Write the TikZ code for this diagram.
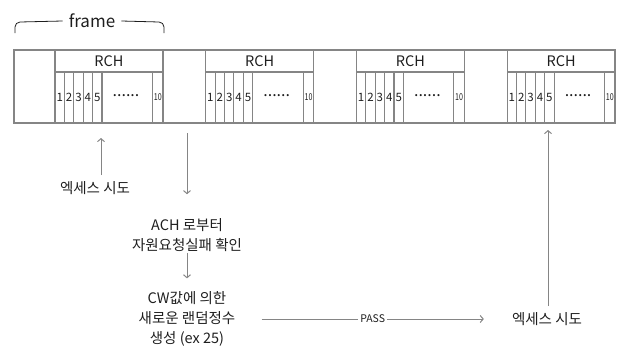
\documentclass[tikz,border=0pt]{standalone}
\usepackage{fontspec}
\setmainfont{Noto Sans CJK KR}
\usepackage{xcolor}
\usetikzlibrary{arrows.meta}
\definecolor{stripline}{HTML}{858585}
\definecolor{labelink}{HTML}{1E1E1E}

\begin{document}
\begin{tikzpicture}[
  x=1pt,
  y=-1pt,
  every node/.style={font=\fontsize{14.5}{16}\selectfont, text=labelink, inner sep=0pt},
  slotnum/.style={font=\fontsize{11.5}{12}\selectfont},
  flowarrow/.style={stripline, line width=1pt, -{Straight Barb[length=3pt, width=7pt]}}
]
  \useasboundingbox (0,0) rectangle (622,351);

  % strip of four frames
  \draw[stripline, line width=1.4pt] (14,50) rectangle (615,123);
  \foreach \i in {0,...,3} {
    \pgfmathsetmacro{\xo}{55+150.7*\i}
    \draw[stripline, line width=1.1pt] (\xo,50) rectangle ++(108,73);
    \draw[stripline, line width=1.1pt] (\xo,72) -- ++(108,0);
    \foreach \k in {1,...,5}
      \draw[stripline, line width=1.1pt] ({\xo+9.4*\k},72) -- ++(0,51);
    \draw[stripline, line width=1.1pt] ({\xo+97.5},72) -- ++(0,51);
    \node (rch\i) at ({\xo+54},61) {RCH};
    \foreach \k in {1,...,5}
      \node[slotnum] at ({\xo+9.4*\k-4.7},97.5) {\k};
    \node[font=\fontsize{16}{16}\selectfont] at ({\xo+71},95.5) {......};
    \node[slotnum, font=\fontsize{9.5}{10}\selectfont, xscale=0.75] at ({\xo+102.8},97.5) {10};
  }

  % frame bracket
  \node[font=\fontsize{17}{19}\selectfont] (framelbl) at (92,21) {frame};
  \draw[labelink, line width=0.8pt] (15,33) -- (15,27) arc[start angle=180, end angle=270, radius=5] -- ([xshift=-6pt]framelbl.west);
  \draw[labelink, line width=0.8pt] ([xshift=6pt]framelbl.east) -- (159,22) arc[start angle=270, end angle=360, radius=5] -- (164,33);

  % access flow
  \node (acc1) at (95,188) {엑세스 시도};
  \node[align=center] (ach) at (187,235) {ACH 로부터\\[4pt]자원요청실패 확인};
  \node[align=center] (cw) at (187,319) {CW값에 의한\\[4pt]새로운 랜덤정수\\[4pt]생성 (ex 25)};
  \node (acc2) at (547,319) {엑세스 시도};
  \coordinate (tip1) at (101,138);
  \coordinate (top2) at (187,133);
  \coordinate (tip3) at (548,130);

  \draw[flowarrow] ([xshift=6pt, yshift=6pt]acc1.north) -- (tip1);
  \draw[flowarrow] (top2) -- ([yshift=24pt]ach.north);
  \draw[flowarrow] ([yshift=-1pt]ach.south) -- ([yshift=13pt]cw.north);
  \draw[flowarrow] ([xshift=26pt]cw.east) -- node[fill=white, inner xsep=2pt, font=\fontsize{10.5}{11}\selectfont] {PASS} ([xshift=-28pt]acc2.west);
  \draw[flowarrow] ([xshift=1pt, yshift=6pt]acc2.north) -- (tip3);
\end{tikzpicture}
\end{document}
